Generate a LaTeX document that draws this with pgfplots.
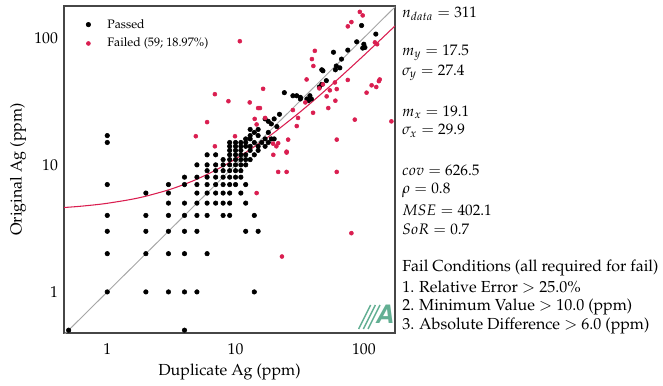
\documentclass[border=0pt]{standalone}
\usepackage[T1]{fontenc}
\usepackage{mathpazo}
\usepackage{pgfplots}
\pgfplotsset{compat=1.18}
\definecolor{failred}{RGB}{218,30,80}
\definecolor{framegray}{RGB}{70,70,70}
\definecolor{logoteal}{RGB}{60,155,120}
\begin{document}
\begin{tikzpicture}
\begin{axis}[
 at={(0,0)}, anchor=south west,
 scale only axis, width=248.25pt, height=245.25pt,
 xmode=log, ymode=log,
 xmin=0.46, xmax=175, ymin=0.475, ymax=178,
 xtick={1,10,100}, ytick={1,10,100},
 xticklabels={1,10,100}, yticklabels={1,10,100},
 minor xtick={}, minor ytick={},
 tick style={draw=none},
 axis line style={framegray, line width=0.9pt},
 ticklabel style={font=\fontsize{11.8}{13}\selectfont},
 xticklabel style={yshift=-4.5pt},
 yticklabel style={xshift=-1pt},
 xlabel={Duplicate Ag (ppm)}, ylabel={Original Ag (ppm)},
 label style={font=\fontsize{12}{14}\selectfont},
 xlabel style={at={(axis description cs:0.5,-0.118)}, anchor=center},
 ylabel style={at={(axis description cs:-0.139,0.5)}, anchor=center},
 legend style={at={(axis description cs:0.05,0.985)}, anchor=north west, draw=none, fill=none,
   font=\fontsize{9.2}{10}\selectfont, row sep=2pt, inner sep=4pt},
 legend cell align=left,
]
\addplot[only marks, mark=*, mark size=1.7pt, black] coordinates {
(0.5,0.5)(4,0.5)
(1,1)(2,1)(3,1)(4,1)(5,1)(14,1)
(1,2)(2,2)(3,2)(4,2)(6,2)
(1,3)(2,3)(3,3)(4,3)(5,3)(12,3)(15,3)
(1,4)(2,4)(3,4)(4,4)(5,4)(6,4)(8,4)(9,4)(14,4)
(3,5)(4,5)(5,5)(6,5)(7,5)(8,5)(9,5)(12,5)
(2,6)(3,6)(5,6)(6,6)(7,6)(8,6)(9,6)(11,6)
(1,7)(3,7)(4,7)(5,7)(6,7)(7,7)(8,7)(9,7)(10,7)(12,7)
(4,8)(5,8)(6,8)(7,8)(8,8)(9,8)(10,8)(11,8)
(6,9)(7,9)(8,9)(9,9)(10,9)(11,9)
(5,10)(6,10)(7,10)(8,10)(9,10)(10,10)(11,10)(12,10)
(8,11)(9,11)(10,11)(11,11)(12,11)(13,11)
(6,12)(7,12)(9,12)(10,12)(11,12)(12,12)(14,12)
(9,13)(10,13)(11,13)(13,13)(15,13)
(9,14)(10,14)(11,14)(12,14)(13,14)(15,14)(17,14)
(9,15)(10,15)(11,15)(12,15)(14,15)(16,15)(18,15)
(12,16)(13,16)(17,16)(19,16)(20,16)
(1,15)(1,17)(13,17)(15,17)(14,18)(18,18)(13,19)(15,19)
(21,20)(19,21)(18,22)(17,23)(20,23)(22,25)
(24,37)(28,35)(30,35)(32,34)(32,33)(36,33)(38,35)(39,33)(37,32)
(45,41)(47,43)(51,46)(47,56)(48,55)(60,56)(61,60)(65,58)(58,77)(67,68)(75,80)
(88,93)(96,125)(100,89)(102,84)(98,83)(124,107)
};
\addlegendentry{\hspace{10.5pt}Passed}
\addplot[only marks, mark=*, mark size=1.5pt, failred] coordinates {
(93,160)(98,150)(80,133)(75,123)(122,92)(127,89)(10.8,94)
(41.5,79)(39.4,68)(40.4,60)(35.8,47)(16.4,39.7)(8.8,31.7)(12.9,31)
(15,28)(15.5,28)(17,23.4)(14.1,23)(14.6,20.8)(30.7,23.4)(30,20.2)
(40.2,25.7)(52.8,28)(51.3,34.6)(61.5,39.5)(59.5,44.5)(75,46.6)
(105,37)(115,42.3)(125,41)(131,45.6)(133,47)(85,22.7)(61.5,15.8)
(21.5,14.8)(20.8,14)(25.7,15.8)(25,12.7)(19.7,12)(9.9,16.8)
(164,22)(61.5,8.8)(80,2.9)(6.9,36)(6,21.7)(4.9,16.8)(6.9,14)
(21.5,8.8)(25,8.8)(14.6,6)(23,1.9)(54.3,38.6)(48,43)(19.6,14.7)
(45,40)(25,12.5)(35,31)(28,27)(60,32)
};
\addlegendentry{\hspace{10.5pt}Failed (59; 18.97\%)}
\addplot[gray!70, line width=0.7pt, forget plot] coordinates {(0.46,0.46)(178,178)};
\addplot[failred, line width=0.8pt, smooth, forget plot] coordinates {
(0.46,4.615)(0.6,4.71)(0.8,4.847)(1,4.984)(1.5,5.326)(2,5.668)(3,6.352)(4,7.036)
(5,7.72)(7,9.088)(10,11.14)(15,14.56)(20,17.98)(30,24.82)(40,31.66)(60,45.34)
(80,59.02)(100,72.7)(130,93.22)(175,124.0)};
\end{axis}
\begin{scope}[every node/.style={anchor=west, inner sep=0pt, font=\fontsize{11.4}{12}\selectfont}]
\node at (253.5pt,239.25pt) {$n_{data}=311$};
\node at (253.5pt,210pt) {$m_y=17.5$};
\node at (253.5pt,195pt) {$\sigma_y=27.4$};
\node at (253.5pt,165.75pt) {$m_x=19.1$};
\node at (253.5pt,151.5pt) {$\sigma_x=29.9$};
\node at (253.5pt,122.25pt) {$cov=626.5$};
\node at (253.5pt,107.25pt) {$\rho=0.8$};
\node at (253.5pt,92.25pt) {$MSE=402.1$};
\node at (253.5pt,78pt) {$SoR=0.7$};
\end{scope}
\begin{scope}[every node/.style={anchor=west, inner sep=0pt, font=\fontsize{12}{13}\selectfont}]
\node at (253.5pt,48.75pt) {Fail Conditions (all required for fail)};
\node at (253.5pt,34.5pt) {1. Relative Error $>$ 25.0\%};
\node at (253.5pt,19.5pt) {2. Minimum Value $>$ 10.0 (ppm)};
\node at (253.5pt,5.25pt) {3. Absolute Difference $>$ 6.0 (ppm)};
\end{scope}
\begin{scope}[opacity=0.8]
\foreach \i in {0,1,2} {\draw[logoteal, line width=1.1pt] ({221pt+\i*3.5pt},3pt) -- ({230pt+\i*3.5pt},21pt);}
\node[logoteal, font=\fontsize{19}{19}\fontfamily{phv}\fontseries{b}\fontshape{sl}\selectfont] at (240pt,14pt) {A};
\end{scope}
\pgfresetboundingbox
\path[use as bounding box] (-48pt,-39pt) rectangle (449.25pt,249.75pt);
\end{tikzpicture}
\end{document}
